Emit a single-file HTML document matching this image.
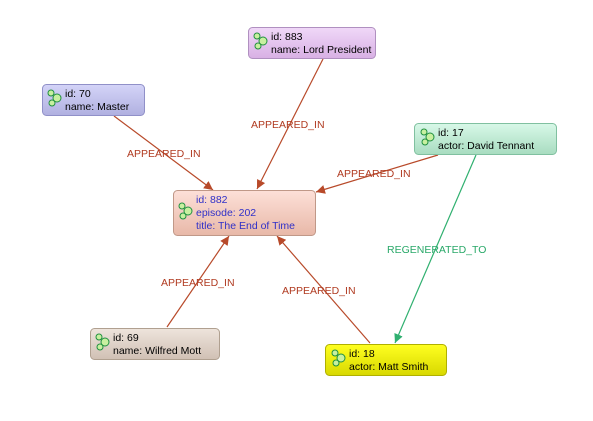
<!DOCTYPE html>
<html><head><meta charset="utf-8"><style>
html,body{margin:0;padding:0;background:#fff;width:593px;height:421px;overflow:hidden}
svg text{font-family:"Liberation Sans",sans-serif;font-size:10.5px}
</style></head><body>
<svg width="593" height="421" viewBox="0 0 593 421" xmlns="http://www.w3.org/2000/svg">
<defs>
<linearGradient id="gP" x1="0" y1="0" x2="0" y2="1"><stop offset="0" stop-color="#f0d8f8"/><stop offset="1" stop-color="#d8b0e4"/></linearGradient>
<linearGradient id="gB" x1="0" y1="0" x2="0" y2="1"><stop offset="0" stop-color="#d4d4f8"/><stop offset="1" stop-color="#b0b0e0"/></linearGradient>
<linearGradient id="gG" x1="0" y1="0" x2="0" y2="1"><stop offset="0" stop-color="#d8f8e8"/><stop offset="1" stop-color="#a8dcc0"/></linearGradient>
<linearGradient id="gR" x1="0" y1="0" x2="0" y2="1"><stop offset="0" stop-color="#fde0d8"/><stop offset="1" stop-color="#e8b8a8"/></linearGradient>
<linearGradient id="gT" x1="0" y1="0" x2="0" y2="1"><stop offset="0" stop-color="#eee4dc"/><stop offset="1" stop-color="#d0c0b4"/></linearGradient>
<linearGradient id="gY" x1="0" y1="0" x2="0" y2="1"><stop offset="0" stop-color="#ffff20"/><stop offset="1" stop-color="#d8d800"/></linearGradient>
<marker id="aR" viewBox="0 0 10 10" refX="10" refY="5" markerWidth="9" markerHeight="9" orient="auto" markerUnits="userSpaceOnUse"><path d="M0,0L10,5L0,10z" fill="#b84a2a"/></marker>
<marker id="aG" viewBox="0 0 10 10" refX="10" refY="5" markerWidth="9" markerHeight="9" orient="auto" markerUnits="userSpaceOnUse"><path d="M0,0L10,5L0,10z" fill="#30b070"/></marker>
<g id="ic"><circle cx="0" cy="0" r="3" fill="#c8f0a0" stroke="#209040" stroke-width="1"/><circle cx="6" cy="5" r="4" fill="#c8f0a0" stroke="#209040" stroke-width="1"/><circle cx="1" cy="10" r="3" fill="#c8f0a0" stroke="#209040" stroke-width="1"/></g>
</defs>
<g stroke="#b84a2a" stroke-width="1.2" fill="none">
<line x1="114" y1="116" x2="213" y2="190" marker-end="url(#aR)"/>
<line x1="323" y1="59" x2="257" y2="189" marker-end="url(#aR)"/>
<line x1="438" y1="155" x2="316" y2="192" marker-end="url(#aR)"/>
<line x1="167" y1="327" x2="229" y2="236" marker-end="url(#aR)"/>
<line x1="370" y1="343" x2="277" y2="236" marker-end="url(#aR)"/>
</g>
<line x1="476" y1="155" x2="395" y2="343" stroke="#30b070" stroke-width="1.2" marker-end="url(#aG)"/>
<g fill="#b03a20">
<text x="127" y="157">APPEARED_IN</text>
<text x="251" y="128">APPEARED_IN</text>
<text x="337" y="177">APPEARED_IN</text>
<text x="161" y="286">APPEARED_IN</text>
<text x="282" y="294">APPEARED_IN</text>
</g>
<text x="387" y="253" fill="#28a868">REGENERATED_TO</text>

<rect x="248.5" y="27.5" width="127" height="31" rx="4" fill="url(#gP)" stroke="#b090c0"/>
<use href="#ic" x="257" y="36"/>
<text x="271" y="40">id: 883</text><text x="271" y="53">name: Lord President</text>

<rect x="42.5" y="84.5" width="102" height="31" rx="4" fill="url(#gB)" stroke="#9090c8"/>
<use href="#ic" x="51" y="93"/>
<text x="65" y="97">id: 70</text><text x="65" y="110">name: Master</text>

<rect x="414.5" y="123.5" width="142" height="31" rx="4" fill="url(#gG)" stroke="#80c0a0"/>
<use href="#ic" x="424" y="132"/>
<text x="438" y="136">id: 17</text><text x="438" y="149">actor: David Tennant</text>

<rect x="173.5" y="190.5" width="142" height="45" rx="4" fill="url(#gR)" stroke="#c09888"/>
<use href="#ic" x="182" y="206"/>
<g fill="#3030c8"><text x="196" y="203">id: 882</text><text x="196" y="216">episode: 202</text><text x="196" y="229">title: The End of Time</text></g>

<rect x="90.5" y="328.5" width="129" height="31" rx="4" fill="url(#gT)" stroke="#b0a090"/>
<use href="#ic" x="99" y="337"/>
<text x="113" y="341">id: 69</text><text x="113" y="354">name: Wilfred Mott</text>

<rect x="325.5" y="344.5" width="121" height="31" rx="4" fill="url(#gY)" stroke="#b0b000"/>
<use href="#ic" x="335" y="353"/>
<text x="349" y="357">id: 18</text><text x="349" y="370">actor: Matt Smith</text>
</svg>
</body></html>
